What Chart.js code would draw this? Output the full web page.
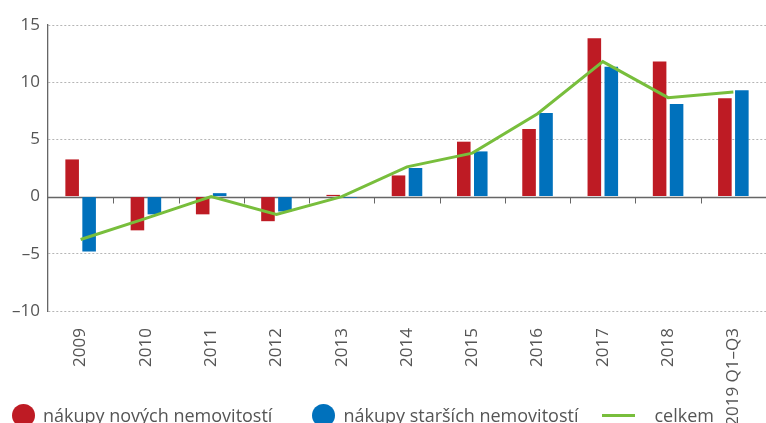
<!DOCTYPE html>
<html>
<head>
<meta charset="utf-8">
<script src="https://cdn.jsdelivr.net/npm/chart.js@4"></script>
<style>
  html, body { margin: 0; padding: 0; background: #fff; }
  #wrap { position: relative; width: 766px; height: 423px; overflow: hidden; }
  #legend { position: absolute; left: 12px; top: 404px; display: flex; align-items: center;
            font-family: "Open Sans", sans-serif; font-size: 18px; line-height: 23px; color: #555; white-space: nowrap; }
  .dot { width: 23px; height: 23px; border-radius: 50%; display: inline-block; margin-right: 8px; }
  .ln { width: 33px; height: 3px; display: inline-block; margin-right: 19px; }
  .item { display: flex; align-items: center; }
</style>
</head>
<body>
<div id="wrap">
  <canvas id="c" width="766" height="423"></canvas>
  <div id="legend"></div>
</div>
<script>
const categories = ['2009','2010','2011','2012','2013','2014','2015','2016','2017','2018','2019 Q1–Q3'];
const noveNemovitosti = [3.25, -2.95, -1.55, -2.15, 0.15, 1.85, 4.8, 5.9, 13.85, 11.8, 8.6];
const starsiNemovitosti = [-4.8, -1.55, 0.3, -1.3, -0.1, 2.5, 3.95, 7.3, 11.35, 8.1, 9.3];
const celkem = [-3.75, -1.9, 0.0, -1.55, 0.0, 2.6, 3.8, 7.25, 11.8, 8.65, 9.15];
const yTicks = { min: -10, max: 15, step: 5 };
const seriesNames = ['nákupy nových nemovitostí', 'nákupy starších nemovitostí', 'celkem'];

const RED = '#BE1B24', BLUE = '#0071BC', GREEN = '#78BE3C', AXIS = '#666', TXT = '#555';
const FONT = '"Open Sans", sans-serif';

// zero line with category-boundary tick marks, drawn through the chart's own scales
const zeroAxis = {
  id: 'zeroAxis',
  beforeDatasetsDraw(chart) {
    const { ctx, scales: { x, y }, chartArea } = chart;
    const y0 = Math.round(y.getPixelForValue(0)) + 0.5;
    ctx.save();
    ctx.strokeStyle = AXIS;
    ctx.lineWidth = 1.3;
    ctx.beginPath();
    ctx.moveTo(chartArea.left, y0);
    ctx.lineTo(chartArea.right, y0);
    ctx.stroke();
    ctx.lineWidth = 1;
    const n = x.getLabels().length;
    for (let i = 1; i < n; i++) {
      const xb = Math.round((x.getPixelForValue(i - 1) + x.getPixelForValue(i)) / 2) + 0.5;
      ctx.beginPath();
      ctx.moveTo(xb, y0);
      ctx.lineTo(xb, y0 + 6);
      ctx.stroke();
    }
    ctx.restore();
  }
};

new Chart(document.getElementById('c'), {
  data: {
    labels: categories,
    datasets: [
      { type: 'line', label: seriesNames[2], data: celkem, borderColor: GREEN, borderWidth: 3,
        pointRadius: 0, tension: 0, order: 0 },
      { type: 'bar', label: seriesNames[0], data: noveNemovitosti, backgroundColor: RED,
        categoryPercentage: 0.52, barPercentage: 0.8, order: 1 },
      { type: 'bar', label: seriesNames[1], data: starsiNemovitosti, backgroundColor: BLUE,
        categoryPercentage: 0.52, barPercentage: 0.8, order: 1 }
    ]
  },
  plugins: [zeroAxis],
  options: {
    responsive: false,
    animation: false,
    events: [],
    layout: { padding: { top: 25, right: 0, bottom: 0, left: 0 } },
    plugins: { legend: { display: false }, tooltip: { enabled: false } },
    scales: {
      x: {
        type: 'category', position: 'bottom',
        grid: { display: false }, border: { display: false },
        ticks: { autoSkip: false, minRotation: 90, maxRotation: 90, padding: 9,
                 color: TXT, font: { family: FONT, size: 17 } },
        afterFit: s => { s.height = 112; }
      },
      y: {
        min: yTicks.min, max: yTicks.max,
        ticks: { stepSize: yTicks.step, padding: 8, color: TXT, font: { family: FONT, size: 17 },
                 callback: v => String(v).replace('-', '–') },
        grid: { drawTicks: false, color: c => c.tick && c.tick.value === 0 ? 'rgba(0,0,0,0)' : '#b5b5b5' },
        border: { display: true, color: AXIS, width: 1.3, dash: [2, 2] },
        afterFit: s => { s.width = 48; }
      }
    }
  }
});

const leg = document.getElementById('legend');
const legendItems = [
  { name: seriesNames[0], color: RED, kind: 'dot', gap: 40 },
  { name: seriesNames[1], color: BLUE, kind: 'dot', gap: 24 },
  { name: seriesNames[2], color: GREEN, kind: 'ln', gap: 0 }
];
legendItems.forEach(it => {
  const d = document.createElement('div');
  d.className = 'item';
  d.style.marginRight = it.gap + 'px';
  const m = document.createElement('span');
  m.className = it.kind;
  m.style.background = it.color;
  const t = document.createElement('span');
  t.textContent = it.name;
  d.appendChild(m); d.appendChild(t);
  leg.appendChild(d);
});
</script>
</body>
</html>
